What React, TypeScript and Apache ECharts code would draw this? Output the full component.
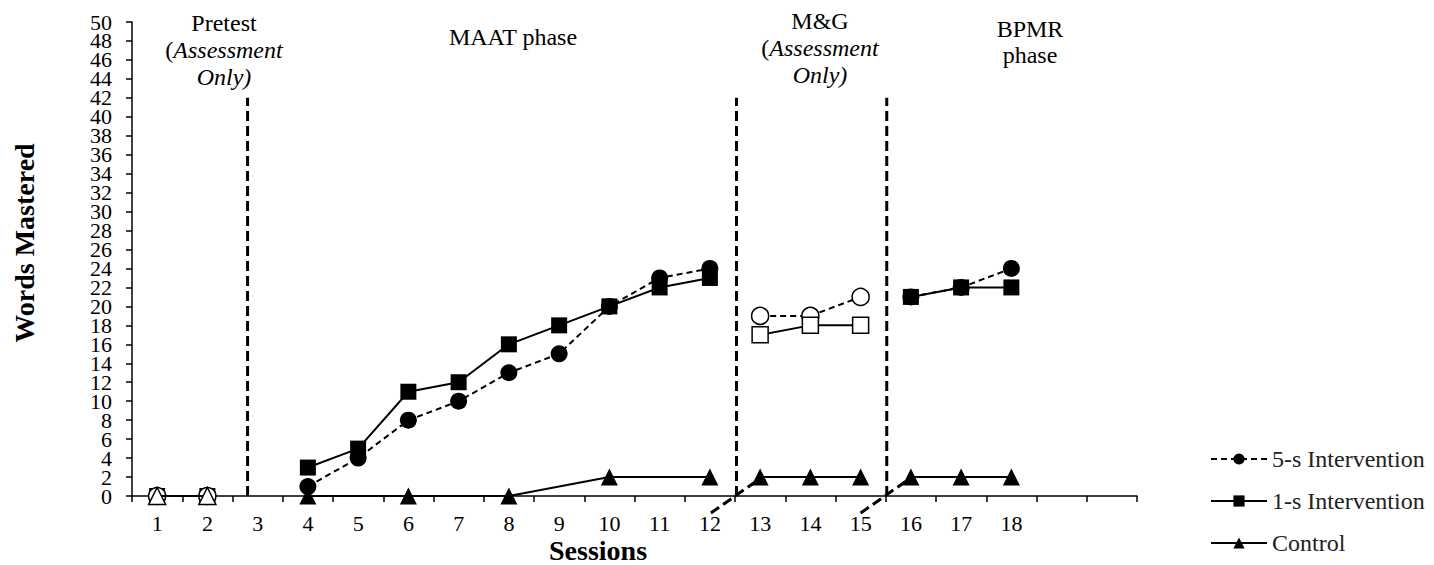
import React, { useEffect, useRef } from "react";
import * as echarts from "echarts";

const sessions = ["1","2","3","4","5","6","7","8","9","10","11","12","13","14","15","16","17","18","",""];
const fiveSec = [0,0,null,1,4,8,10,13,15,20,23,24,19,19,21,21,22,24,null,null];
const oneSec = [0,0,null,3,5,11,12,16,18,20,22,23,17,18,18,21,22,22,null,null];
const control = [0,0,null,0,null,0,null,0,null,2,null,2,2,2,2,2,2,2,null,null];

// phase ranges (category indices)
const phases = { pre: [0, 1], maat: [3, 11], mg: [12, 14], bpmr: [15, 17] };
const phaseLinesX = [2.8, 12.53, 15.52];
const phaseLineTop = 42;
const breakLines = [
  [[12.02, -1.8], [13.04, 2.0]],
  [[15.0, -1.8], [16.02, 2.0]],
];

const FONT = "'Liberation Serif', 'Times New Roman', serif";

function slice(arr: (number | null)[], r: number[]) {
  return arr.map((v, i) => (i >= r[0] && i <= r[1] && v != null ? v : "-"));
}

export default function App() {
  const ref = useRef<HTMLDivElement>(null);
  useEffect(() => {
    const chart = echarts.init(ref.current!, null, { renderer: "svg" });

    const defs = [
      { name: "5-s Intervention", data: fiveSec, symbol: "circle", size: 17, dashed: true },
      { name: "1-s Intervention", data: oneSec, symbol: "rect", size: 16, dashed: false },
      { name: "Control", data: control, symbol: "triangle", size: 17, dashed: false },
    ];

    const openStyle = { color: "#fff", borderColor: "#000", borderWidth: 1.5 };
    const fillStyle = { color: "#000", borderColor: "#000", borderWidth: 0 };

    const mk = (d: any, r: number[], style: any, z: number) => ({
      name: d.name,
      type: "line",
      xAxisIndex: 0,
      yAxisIndex: 0,
      data: slice(d.data, r),
      connectNulls: true,
      symbol: d.symbol,
      symbolSize: d.size,
      showSymbol: true,
      z,
      lineStyle: { color: "#000", width: 2, type: d.dashed ? [6, 4] : "solid" },
      itemStyle: style,
      emphasis: { disabled: true },
    });

    const series: any[] = [];
    // MAAT first (legend picks first series by name)
    series.push(mk(defs[0], phases.maat, fillStyle, 2));
    series.push(mk(defs[1], phases.maat, fillStyle, 3));
    series.push(mk(defs[2], phases.maat, fillStyle, 4));
    // pretest: square under circle under triangle
    series.push(mk(defs[1], phases.pre, fillStyle, 2));
    series.push(mk(defs[0], phases.pre, openStyle, 3));
    series.push(mk(defs[2], phases.pre, openStyle, 4));
    // M&G: open intervention markers, filled control
    series.push(mk(defs[0], phases.mg, openStyle, 2));
    series.push(mk(defs[1], phases.mg, openStyle, 3));
    series.push(mk(defs[2], phases.mg, fillStyle, 4));
    // BPMR
    series.push(mk(defs[0], phases.bpmr, fillStyle, 2));
    series.push(mk(defs[1], phases.bpmr, fillStyle, 3));
    series.push(mk(defs[2], phases.bpmr, fillStyle, 4));

    const dashStyle = { color: "#000", width: 3, type: [10, 5] as any };
    phaseLinesX.forEach((x, i) => {
      series.push({
        name: "phase" + i,
        type: "line",
        xAxisIndex: 1,
        yAxisIndex: 0,
        data: [[x, 0], [x, phaseLineTop]],
        symbol: "none",
        silent: true,
        clip: false,
        z: 1,
        lineStyle: dashStyle,
      });
    });
    breakLines.forEach((pts, i) => {
      series.push({
        name: "break" + i,
        type: "line",
        xAxisIndex: 1,
        yAxisIndex: 0,
        data: pts,
        symbol: "none",
        silent: true,
        clip: false,
        z: 1,
        lineStyle: dashStyle,
      });
    });

    const textBase = { fontFamily: FONT, fontSize: 24, fill: "#000", lineHeight: 27 };
    const rich = {
      n: { fontFamily: FONT, fontSize: 24, lineHeight: 27, fill: "#000" },
      i: { fontFamily: FONT, fontSize: 24, lineHeight: 27, fill: "#000", fontStyle: "italic" },
    };

    // two overlaid y axes: one labels multiples of 4, the other the remaining even values
    const yLabel = (keepRem: number) => ({
      formatter: (v: number) => (v % 4 === keepRem ? String(v) : ""),
      fontSize: 22,
      lineHeight: 16,
      fontFamily: FONT,
      color: "#000",
      margin: 20,
      showMinLabel: true,
      showMaxLabel: true,
    });

    chart.setOption({
      animation: false,
      grid: { left: 132, top: 22, width: 1005, height: 474, containLabel: false },
      xAxis: [
        {
          type: "category",
          data: sessions,
          boundaryGap: true,
          axisLine: { lineStyle: { color: "#000", width: 1.5 } },
          axisTick: { show: true, length: 6, interval: 0, alignWithLabel: false, lineStyle: { color: "#000", width: 1.5 } },
          axisLabel: { interval: 0, fontSize: 22, fontFamily: FONT, color: "#000", margin: 16 },
          splitLine: { show: false },
        },
        { type: "value", min: 0.5, max: 20.5, show: false },
      ],
      yAxis: [
        {
          type: "value",
          position: "left",
          min: 0,
          max: 50,
          interval: 2,
          axisLine: { show: true, lineStyle: { color: "#000", width: 1.5 } },
          axisTick: { show: true, length: 6, lineStyle: { color: "#000", width: 1.5 } },
          axisLabel: yLabel(0),
          splitLine: { show: false },
        },
        {
          type: "value",
          position: "left",
          offset: 0,
          min: 0,
          max: 50,
          interval: 2,
          axisLine: { show: false },
          axisTick: { show: false },
          axisLabel: yLabel(2),
          splitLine: { show: false },
        },
      ],
      legend: {
        data: defs.map((d) => d.name),
        orient: "vertical",
        left: 1210,
        top: 447,
        padding: 0,
        itemWidth: 56,
        itemHeight: 14,
        itemGap: 18,
        selectedMode: false,
        textStyle: { fontSize: 24, fontFamily: FONT, color: "#222" },
      },
      graphic: [
        {
          type: "text",
          x: 224,
          y: 9,
          style: { ...textBase, text: "{n|Pretest}\n{n|(}{i|Assessment}\n{i|Only)}", rich, align: "center", verticalAlign: "top" },
        },
        {
          type: "text",
          x: 513,
          y: 23,
          style: { ...textBase, text: "MAAT phase", align: "center", verticalAlign: "top" },
        },
        {
          type: "text",
          x: 820,
          y: 7,
          style: { ...textBase, text: "{n|M&G}\n{n|(}{i|Assessment}\n{i|Only)}", rich, align: "center", verticalAlign: "top" },
        },
        {
          type: "text",
          x: 1030,
          y: 16,
          style: { ...textBase, text: "BPMR\nphase", lineHeight: 26, align: "center", verticalAlign: "top" },
        },
        {
          type: "text",
          x: 598,
          y: 550,
          style: { text: "Sessions", fontFamily: FONT, fontSize: 28, fontWeight: "bold", fill: "#000", align: "center", verticalAlign: "middle" },
        },
        {
          type: "text",
          x: 24,
          y: 243,
          rotation: Math.PI / 2,
          style: { text: "Words Mastered", fontFamily: FONT, fontSize: 28, fontWeight: "bold", fill: "#000", align: "center", verticalAlign: "middle" },
        },
      ],
      series,
    });
    return () => chart.dispose();
  }, []);
  return <div ref={ref} style={{ position: "fixed", left: 0, top: 0, width: 1434, height: 565, background: "#fff" }} />;
}
